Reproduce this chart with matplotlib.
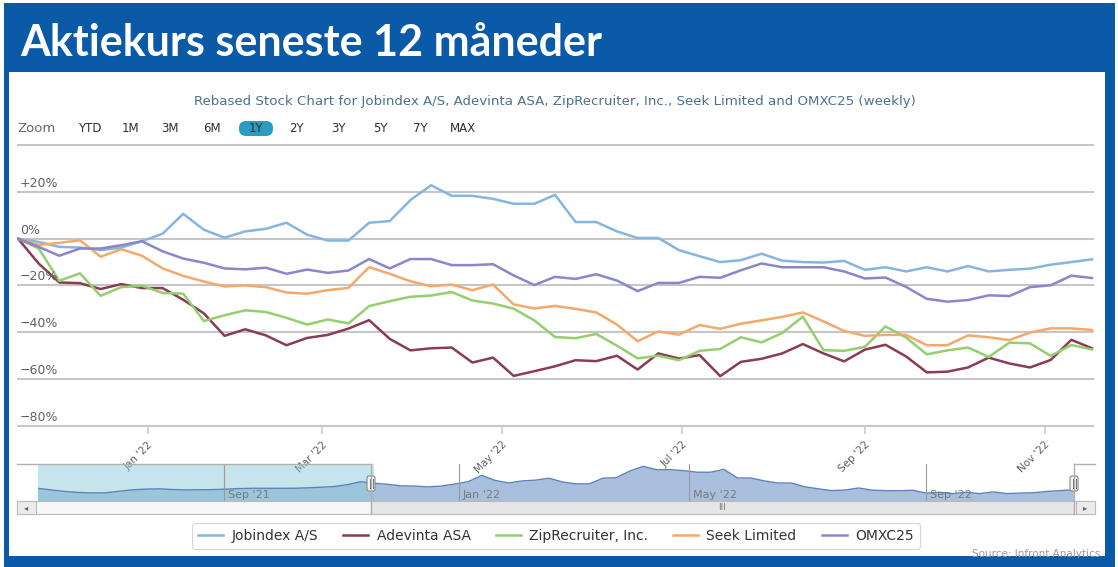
import pandas as pd
import matplotlib
matplotlib.use("Agg")
import matplotlib.pyplot as plt
import matplotlib.dates as mdates
import matplotlib.transforms as mtransforms
from matplotlib.patches import Rectangle, FancyBboxPatch
from matplotlib.lines import Line2D

W, H = 1118, 567

# weekly, rebased to 0% at the first week (values in %)
start_date = "2021-11-18"
jobindex = [0, -1.4, -3.5, -3.8, -4.9, -3.8, -1.1, 2.1, 10.6, 3.8,
            0.4, 3.1, 4.2, 6.8, 1.7, -0.8, -0.8, 6.8, 7.5, 16.5,
            22.8, 18.3, 18.3, 17.0, 14.9, 14.9, 18.7, 7.1, 7.1, 3.1,
            0.3, 0.3, -4.9, -7.5, -10.0, -9.2, -6.4, -9.4, -10.0, -10.2,
            -9.5, -13.3, -12.2, -14.0, -12.2, -14.0, -11.7, -14.0, -13.3, -12.8,
            -11.1, -10.0, -8.8]
adevinta = [0, -10.6, -18.7, -19.0, -21.5, -19.4, -21.1, -21.1, -26.1, -31.9,
            -41.5, -38.7, -41.3, -45.5, -42.4, -41.1, -38.4, -34.8, -42.8, -47.7,
            -46.8, -46.5, -52.9, -50.8, -58.6, -56.6, -54.5, -51.9, -52.3, -50.0,
            -55.9, -49.0, -51.2, -49.7, -58.7, -52.6, -51.3, -49.0, -45.0, -49.0,
            -52.4, -47.4, -45.3, -50.3, -57.1, -56.8, -55.0, -50.8, -53.3, -55.0,
            -51.8, -43.2, -46.8]
ziprecruiter = [0, -4.2, -18.0, -14.8, -24.4, -20.7, -20.1, -23.2, -23.5, -35.2,
                -32.7, -30.6, -31.3, -33.8, -36.7, -34.5, -36.2, -28.8, -26.7, -24.8,
                -24.3, -22.8, -26.4, -27.7, -29.9, -34.9, -42.0, -42.5, -40.7, -45.7,
                -51.1, -50.0, -51.9, -47.9, -47.1, -42.1, -44.3, -40.3, -33.3, -47.6,
                -47.9, -46.2, -37.5, -42.2, -49.4, -47.7, -46.5, -50.5, -44.4, -44.7,
                -50.1, -45.4, -47.3]
seek = [0, -2.7, -1.8, -0.7, -7.7, -4.5, -7.3, -12.7, -15.9, -18.3,
        -20.4, -20.0, -20.7, -23.0, -23.5, -22.0, -21.0, -12.2, -15.0, -18.2,
        -20.3, -19.6, -22.0, -19.6, -28.1, -29.8, -28.7, -30.0, -31.5, -36.7,
        -43.8, -39.6, -41.0, -36.9, -38.5, -36.3, -34.9, -33.4, -31.5, -35.3,
        -39.4, -41.5, -41.1, -41.1, -45.5, -45.5, -41.3, -42.1, -43.3, -40.1,
        -38.3, -38.3, -39.0]
omxc25 = [0, -3.5, -7.3, -4.2, -4.2, -2.8, -1.1, -5.4, -8.5, -10.3,
          -12.7, -13.1, -12.4, -15.0, -13.2, -14.6, -13.6, -8.7, -12.7, -8.7,
          -8.7, -11.3, -11.3, -10.9, -15.7, -19.8, -16.3, -17.2, -15.2, -17.9,
          -22.4, -18.9, -18.9, -16.3, -16.7, -13.5, -10.6, -12.2, -12.2, -12.2,
          -14.0, -17.0, -16.6, -20.6, -25.7, -26.9, -26.2, -24.2, -24.5, -20.7,
          -19.9, -15.8, -16.8]

# navigator: Jobindex before the selected year (same rebased units)
nav_start = "2021-05-27"
nav_before = [-6.8, -9.0, -11.0, -12.5, -13.0, -13.0, -11.0, -9.0, -8.0, -7.5,
              -8.5, -9.0, -8.8, -8.6, -8.0, -7.2, -6.8, -6.8, -6.8, -6.8,
              -6.2, -5.5, -4.5, -2.0, 2.0]

series_names = ["Jobindex A/S", "Adevinta ASA", "ZipRecruiter, Inc.", "Seek Limited", "OMXC25"]
series_colors = ["#86b5e0", "#8b3b52", "#94cf6e", "#f4a96a", "#8a86cc"]
y_ticks = [40, 20, 0, -20, -40, -60, -80]
y_labels = {20: "+20%", 0: "0%", -20: "\u221220%", -40: "\u221240%", -60: "\u221260%", -80: "\u221280%"}
zoom_buttons = ["YTD", "1M", "3M", "6M", "1Y", "2Y", "3Y", "5Y", "7Y", "MAX"]
nav_marks = ["2021-09-01", "2022-01-01", "2022-05-01", "2022-09-01"]

week_dates = pd.date_range(start_date, periods=len(jobindex), freq="7D")
x = mdates.date2num(week_dates.to_pydatetime())
nav_dates = pd.date_range(nav_start, periods=len(nav_before) + len(jobindex), freq="7D")
nx = mdates.date2num(nav_dates.to_pydatetime())
nav_values = nav_before + jobindex

fig = plt.figure(figsize=(W / 100, H / 100), dpi=100)
ident = mtransforms.IdentityTransform()


def prect(x0, y0, x1, y1, **kw):
    return fig.add_artist(Rectangle((x0, H - y1), x1 - x0, y1 - y0, transform=ident, **kw))


def pline(x0, y0, x1, y1, **kw):
    return fig.add_artist(Line2D([x0, x1], [H - y0, H - y1], transform=ident, **kw))


# frame and header
prect(4, 3, 1115, 567, facecolor="#0b5aa7", edgecolor="none", zorder=-3)
prect(9, 72, 1105, 556, facecolor="white", edgecolor="none", zorder=-2)
fig.text(20 / W, 1 - 43 / H, "Aktiekurs seneste 12 måneder", color="white", fontsize=31,
         fontweight="bold", family=["Lato", "DejaVu Sans"], va="center", ha="left")

# chart title
fig.text(555 / W, 1 - 102 / H,
         "Rebased Stock Chart for Jobindex A/S, Adevinta ASA, ZipRecruiter, Inc., Seek Limited and OMXC25 (weekly)",
         ha="center", va="center", fontsize=9.6, color="#4f6f90")

# zoom buttons
fig.text(17 / W, 1 - 129 / H, "Zoom", ha="left", va="center", fontsize=9.5, color="#666666")
btn_x = [90, 130, 170, 212, 256, 296, 338, 380, 420, 463]
for lab, bx in zip(zoom_buttons, btn_x):
    if lab == "1Y":
        fig.add_artist(FancyBboxPatch((bx - 17, H - 136), 34, 15, boxstyle="round,pad=0,rounding_size=7",
                                      transform=ident, facecolor="#2a9cc2", edgecolor="none"))
    fig.text(bx / W, 1 - 128 / H, lab, ha="center", va="center", fontsize=8.5, color="#2f2f2f")

# main chart
ax = fig.add_axes([17 / W, 1 - 427 / H, (1094 - 17) / W, (427 - 144) / H])
ppd = (1092 - 18) / (x[-1] - x[0])
ax.set_xlim(x[0] - 1 / ppd, x[-1] + 2 / ppd)
ax.set_ylim(-80 - 1 / 2.35, 40 + 1 / 2.35)
for vals, name, col in zip([jobindex, adevinta, ziprecruiter, seek, omxc25], series_names, series_colors):
    ax.plot(x, vals, color=col, lw=1.8, label=name, solid_joinstyle="round")
ax.set_yticks(y_ticks)
ax.grid(axis="y", color="#c6c6c6", lw=1.5)
ax.set_axisbelow(True)
ax.tick_params(axis="y", length=0, labelleft=False)
for s in ax.spines.values():
    s.set_visible(False)
ax.xaxis.set_major_locator(mdates.MonthLocator(bymonth=[1, 3, 5, 7, 9, 11]))
ax.xaxis.set_major_formatter(mdates.DateFormatter("%b '%y"))
ax.tick_params(axis="x", length=5, width=1.2, color="#c0d0e0", pad=4, labelsize=7.5, labelcolor="#606060")
for t in ax.get_xticklabels():
    t.set_rotation(45)
    t.set_ha("right")
    t.set_rotation_mode("anchor")

lab_tr = mtransforms.offset_copy(mtransforms.blended_transform_factory(ax.transAxes, ax.transData),
                                 fig=fig, x=3, y=2, units="dots")
for v, lab in y_labels.items():
    ax.text(0, v, lab, transform=lab_tr, ha="left", va="bottom", fontsize=9, color="#606060")

# navigator
nav = fig.add_axes([37.5 / W, 1 - 501 / H, (1074 - 37.5) / W, (501 - 464) / H])
nav.set_xlim(nx[0], nx[-1])
nav.set_ylim(-24, 26)
nav.fill_between(nx, nav_values, -24, color="#a9bfde", lw=0)
nav.plot(nx, nav_values, color="#5f82bb", lw=1)
nav.axvspan(nx[0], x[0], color="#8fcbd8", alpha=0.5, lw=0)
for d in nav_marks:
    dn = mdates.date2num(pd.Timestamp(d).to_pydatetime())
    nav.axvline(dn, color="#9a9a9a", lw=0.8)
    nav.text(dn + 2, -22, pd.Timestamp(d).strftime("%b '%y"), fontsize=8, color="#7a7a7a", va="bottom")
nav.axis("off")

# navigator outline, scrollbar, handles
prect(17, 501, 1095, 514, facecolor="#f7f7f7", edgecolor="#bbbbbb", lw=0.8)
prect(371, 501, 1074, 514, facecolor="#e6e6e6", edgecolor="#bbbbbb", lw=0.8)
prect(17, 501, 36, 514, facecolor="#ebebeb", edgecolor="#bbbbbb", lw=0.8)
prect(1076, 501, 1095, 514, facecolor="#ebebeb", edgecolor="#bbbbbb", lw=0.8)
fig.text(26.5 / W, 1 - 507.5 / H, "\u25c2", ha="center", va="center", fontsize=6, color="#666666")
fig.text(1085.5 / W, 1 - 507.5 / H, "\u25b8", ha="center", va="center", fontsize=6, color="#666666")
fig.text(722 / W, 1 - 507.5 / H, "III", ha="center", va="center", fontsize=6.5, color="#777777")
pline(17, 464, 371, 464, color="#b0b0b0", lw=1)
pline(1074, 464, 1095, 464, color="#b0b0b0", lw=1)
pline(371, 464, 371, 514, color="#b0b0b0", lw=1)
pline(1074, 464, 1074, 514, color="#b0b0b0", lw=1)
for hx in [371, 1074]:
    fig.add_artist(FancyBboxPatch((hx - 4, H - 491), 8, 15, boxstyle="round,pad=0,rounding_size=2",
                                  transform=ident, facecolor="#f4f4f4", edgecolor="#888888", lw=0.8))
    pline(hx - 1.5, 479, hx - 1.5, 488, color="#777777", lw=0.7)
    pline(hx + 1.5, 479, hx + 1.5, 488, color="#777777", lw=0.7)

# legend
handles = [Line2D([], [], color=c, lw=1.8) for c in series_colors]
leg = fig.legend(handles, series_names, loc="center", bbox_to_anchor=(556 / W, 1 - 536 / H), ncol=5,
                 fontsize=10, frameon=True, fancybox=True, edgecolor="#cccccc", labelcolor="#333333",
                 handlelength=1.8, columnspacing=1.8, handletextpad=0.6, borderpad=0.45)
leg.get_frame().set_linewidth(0.8)

# source, partly hidden by the frame
fig.text(1100 / W, 1 - 554 / H, "Source: Infront Analytics", ha="right", va="center", fontsize=7.5,
         color="#9a9a9a", zorder=4)
prect(4, 558, 1115, 567, facecolor="#0b5aa7", edgecolor="none", zorder=5)

fig.savefig("out.png", dpi=100)
